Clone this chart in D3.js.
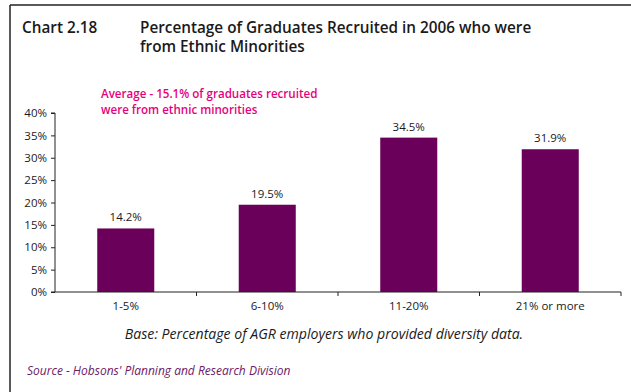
<!DOCTYPE html>
<html>
<head>
<meta charset="utf-8">
<script src="https://cdn.jsdelivr.net/npm/d3@7"></script>
<style>
  html, body { margin: 0; padding: 0; background: #fff; }
  svg { display: block; font-family: "Open Sans", sans-serif; }
</style>
</head>
<body>
<svg id="chart" width="631" height="392"></svg>
<script>
// Share of recruited graduates from ethnic minorities, by employer band
const categories = ["1-5%", "6-10%", "11-20%", "21% or more"];
const values = [14.2, 19.5, 34.5, 31.9];
const yTicks = [0, 5, 10, 15, 20, 25, 30, 35, 40];

const svg = d3.select("#chart");
const W = 631, H = 392;
const ink = "#1a1a1a";

// Frame: left and top rules
svg.append("line").attr("x1", 10).attr("x2", 10).attr("y1", 5).attr("y2", H)
  .attr("stroke", "#222").attr("stroke-width", 1.5);
svg.append("line").attr("x1", 10).attr("x2", W).attr("y1", 5).attr("y2", 5)
  .attr("stroke", "#222").attr("stroke-width", 1.5);

// Title
svg.append("text").attr("x", 22).attr("y", 33).attr("font-size", 15.3).attr("font-weight", 600)
  .attr("fill", ink).text("Chart 2.18");
const title = svg.append("text").attr("x", 140).attr("y", 33).attr("font-size", 15.3)
  .attr("font-weight", 600).attr("fill", ink);
title.append("tspan").attr("x", 140).attr("dy", 0).text("Percentage of Graduates Recruited in 2006 who were");
title.append("tspan").attr("x", 140).attr("dy", 19).text("from Ethnic Minorities");

// Scales
const x = d3.scaleBand().domain(categories).range([55, 621]).paddingInner(0.597).paddingOuter(0.2985);
const y = d3.scaleLinear().domain([0, 40]).range([292, 113]);

// Bars
svg.append("g").selectAll("rect").data(values).join("rect")
  .attr("x", (d, i) => x(categories[i]))
  .attr("width", x.bandwidth())
  .attr("y", d => y(d))
  .attr("height", d => y(0) - y(d))
  .attr("fill", "#6b005a");

// Value labels
svg.append("g").selectAll("text").data(values).join("text")
  .attr("x", (d, i) => x(categories[i]) + x.bandwidth() / 2)
  .attr("y", d => y(d) - 7)
  .attr("text-anchor", "middle").attr("font-size", 11.5).attr("fill", ink)
  .text(d => d.toFixed(1) + "%");

// Y axis
const yAxis = svg.append("g").attr("transform", "translate(55,0)")
  .call(d3.axisLeft(y).tickValues(yTicks).tickSize(4).tickPadding(4).tickFormat(d => d + "%"));
yAxis.select(".domain").attr("stroke", "#222").attr("d", `M-4,${y(40)}H0V${y(0)}H-4`);
yAxis.selectAll(".tick line").attr("stroke", "#222");
yAxis.selectAll(".tick text").attr("font-size", 11.5).attr("fill", ink)
  .attr("font-family", "'Open Sans', sans-serif");

// X axis with boundary ticks between categories
const xAxisG = svg.append("g");
xAxisG.append("line").attr("x1", 55).attr("x2", 621).attr("y1", 292).attr("y2", 292)
  .attr("stroke", "#222").attr("stroke-width", 1.2);
const boundaries = categories.map(c => x(c) + x.bandwidth() / 2 + x.step() / 2);
xAxisG.selectAll("line.b").data(boundaries).join("line").attr("class", "b")
  .attr("x1", d => d).attr("x2", d => d).attr("y1", 292).attr("y2", 296)
  .attr("stroke", "#222");
xAxisG.selectAll("text").data(categories).join("text")
  .attr("x", d => x(d) + x.bandwidth() / 2).attr("y", 310)
  .attr("text-anchor", "middle").attr("font-size", 11.5).attr("fill", ink)
  .text(d => d);

// Annotation (two lines)
const noteLines = ["Average - 15.1% of graduates recruited", "were from ethnic minorities"];
svg.append("g").selectAll("text").data(noteLines).join("text")
  .attr("x", 101).attr("y", (d, i) => 98 + i * 16)
  .attr("font-size", 11.6).attr("font-weight", 600).attr("fill", "#e6007e")
  .text(d => d);

// Base and source
svg.append("text").attr("x", 324).attr("y", 339).attr("text-anchor", "middle")
  .attr("font-size", 14.1).attr("font-style", "italic").attr("fill", ink)
  .text("Base: Percentage of AGR employers who provided diversity data.");
svg.append("text").attr("x", 27).attr("y", 375).attr("font-size", 12)
  .attr("font-style", "italic").attr("fill", "#6b1a66")
  .text("Source - Hobsons' Planning and Research Division");
</script>
</body>
</html>
